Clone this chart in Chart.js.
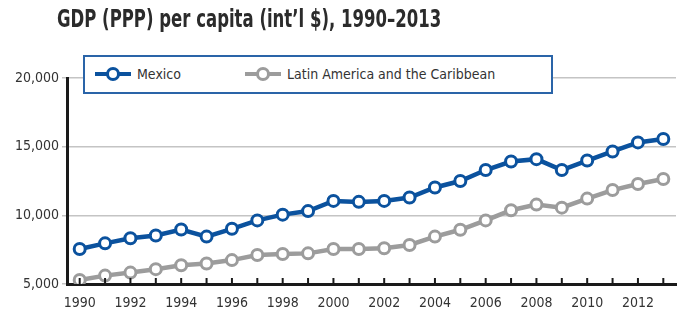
<!DOCTYPE html>
<html>
<head>
<meta charset="utf-8">
<script src="https://cdn.jsdelivr.net/npm/chart.js@4/dist/chart.umd.min.js"></script>
<style>
  html, body { margin: 0; padding: 0; background: #fff; }
  #wrap { position: relative; width: 685px; height: 318px; }
  #title {
    position: absolute; left: 57px; top: 5px; white-space: nowrap;
    font-family: 'Liberation Sans Narrow', 'DejaVu Sans Condensed', 'Liberation Sans', sans-serif;
    font-weight: bold; font-size: 24px; color: #2b2b2b;
    transform: scaleX(0.765); transform-origin: left top;
  }
  #legend {
    position: absolute; left: 83px; top: 55px; width: 470px; height: 39px;
    box-sizing: border-box; border: 2px solid #2a64a8; background: #fff;
    font-family: 'Liberation Sans Narrow', 'DejaVu Sans Condensed', 'Liberation Sans', sans-serif;
    font-size: 14px; color: #333;
  }
  .item { position: absolute; top: 9px; display: flex; align-items: center; }
  .mark { position: relative; width: 36px; height: 14px; margin-right: 6px; }
  .mark .ln { position: absolute; left: 0; right: 0; top: 5px; height: 4px; }
  .mark .pt { position: absolute; left: 11px; top: 0; width: 8px; height: 8px; border-radius: 50%; background: #fff; border-width: 3px; border-style: solid; }
  canvas { position: absolute; left: 0; top: 0; }
</style>
</head>
<body>
<div id="wrap">
  <canvas id="chart" width="685" height="318"></canvas>
  <div id="title">GDP (PPP) per capita (int’l $), 1990–2013</div>
  <div id="legend"></div>
</div>
<script>
const years = ['1990','1991','1992','1993','1994','1995','1996','1997','1998','1999','2000','2001',
  '2002','2003','2004','2005','2006','2007','2008','2009','2010','2011','2012','2013'];
const mexico = [7550, 7960, 8330, 8530, 8970, 8450, 9020, 9630, 10050, 10310, 11050, 10980,
  11050, 11300, 12030, 12500, 13300, 13920, 14090, 13300, 13990, 14650, 15310, 15560];
const latam = [5290, 5610, 5830, 6080, 6370, 6490, 6740, 7110, 7180, 7230, 7550, 7550,
  7600, 7840, 8450, 8950, 9630, 10370, 10780, 10560, 11220, 11840, 12280, 12650];
const seriesNames = ['Mexico', 'Latin America and the Caribbean'];
const yTicks = [5000, 10000, 15000, 20000];

const blue = '#0b529e';
const grey = '#9c9c9c';
const fontFamily = "'Liberation Sans Narrow', 'DejaVu Sans Condensed', 'Liberation Sans', sans-serif";

// little inward tick marks on the x axis, one per year
const xTickMarks = {
  id: 'xTickMarks',
  afterDatasetsDraw(chart) {
    const x = chart.scales.x;
    const ctx = chart.ctx;
    ctx.save();
    ctx.strokeStyle = '#1a1a1a';
    ctx.lineWidth = 2;
    x.ticks.forEach((t, i) => {
      const px = x.getPixelForTick(i);
      ctx.beginPath();
      ctx.moveTo(px, x.top);
      ctx.lineTo(px, x.top - 6);
      ctx.stroke();
    });
    ctx.restore();
  }
};

const chart = new Chart(document.getElementById('chart'), {
  type: 'line',
  data: {
    labels: years,
    datasets: [
      { label: seriesNames[0], data: mexico, borderColor: blue, backgroundColor: '#fff',
        borderWidth: 4.5, pointRadius: 5.5, pointBorderWidth: 3, pointBorderColor: blue,
        pointBackgroundColor: '#fff', tension: 0 },
      { label: seriesNames[1], data: latam, borderColor: grey, backgroundColor: '#fff',
        borderWidth: 4.5, pointRadius: 5.5, pointBorderWidth: 3, pointBorderColor: grey,
        pointBackgroundColor: '#fff', tension: 0 }
    ]
  },
  options: {
    responsive: false,
    animation: false,
    layout: { padding: { top: 78, right: 9, left: 0, bottom: 0 } },
    plugins: { legend: { display: false }, tooltip: { enabled: false } },
    scales: {
      x: {
        offset: true,
        grid: { display: false },
        border: { display: true, color: '#1a1a1a', width: 3 },
        ticks: {
          autoSkip: false, maxRotation: 0, padding: 3,
          color: '#333', font: { family: fontFamily, size: 14 },
          callback(v, i) { const y = +years[i]; return (y % 2 === 0 && y < 2013) ? years[i] : ''; }
        },
        afterFit(s) { s.height = 34; }
      },
      y: {
        min: 5000, max: 20000,
        afterBuildTicks(s) { s.ticks = yTicks.map(v => ({ value: v })); },
        grid: { color: '#c4c4c4', lineWidth: 1.5, tickLength: 5 },
        border: { display: true, color: '#1a1a1a', width: 3 },
        ticks: {
          padding: 3, color: '#333', font: { family: fontFamily, size: 14 },
          callback: v => v.toLocaleString('en-US')
        },
        afterFit(s) { s.width = 67; }
      }
    }
  },
  plugins: [xTickMarks]
});

// legend built from the dataset labels
const legend = document.getElementById('legend');
const lefts = [10, 160];
chart.data.datasets.forEach((ds, i) => {
  const item = document.createElement('div');
  item.className = 'item';
  item.style.left = lefts[i] + 'px';
  item.innerHTML = '<span class="mark"><span class="ln" style="background:' + ds.borderColor +
    '"></span><span class="pt" style="border-color:' + ds.borderColor + '"></span></span><span>' +
    ds.label + '</span>';
  legend.appendChild(item);
});
</script>
</body>
</html>
